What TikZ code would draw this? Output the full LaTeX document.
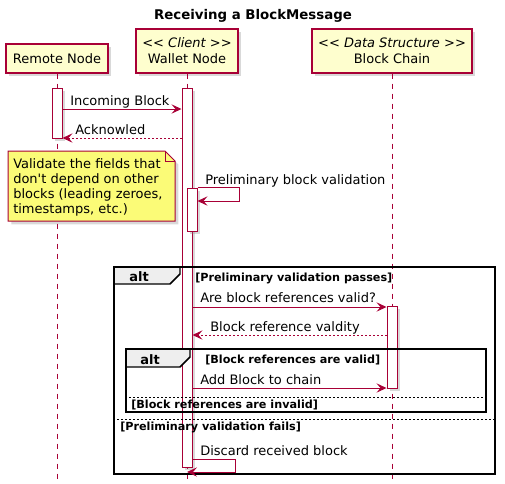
\documentclass[tikz,border=0pt]{standalone}
\usepackage{fontspec}
\setmainfont{DejaVu Sans}[Ligatures=TeXOff]
\usetikzlibrary{arrows.meta,fit,shadows}

\definecolor{umlred}{HTML}{A80036}
\definecolor{partfill}{HTML}{FEFECE}
\definecolor{notefill}{HTML}{FBFB77}
\definecolor{tabfill}{HTML}{EEEEEE}

\begin{document}
\begin{tikzpicture}[x=0.75pt, y=-0.75pt,
    boxshadow/.style={drop shadow={shadow xshift=2.5pt, shadow yshift=-2.5pt, opacity=0.3}},
    part/.style={draw=umlred, fill=partfill, line width=1.1pt, align=center, inner sep=0pt,
      font=\fontsize{9.75}{12}\selectfont, boxshadow},
    life/.style={draw=umlred, line width=0.75pt, dash pattern=on 3.75pt off 3.75pt},
    actbar/.style={draw=umlred, fill=white, line width=0.75pt, inner sep=0pt, boxshadow},
    msg/.style={draw=umlred, line width=0.75pt, -{Stealth[length=7.5pt, width=7pt, inset=3pt]}},
    reply/.style={msg, dash pattern=on 1.5pt off 1.5pt},
    msgtext/.style={anchor=base west, inner sep=0pt, font=\fontsize{9.75}{12}\selectfont},
    cond/.style={anchor=base west, inner sep=0pt, font=\bfseries\fontsize{8.4}{10}\selectfont},
    altframe/.style={draw=black, line width=1.5pt, inner sep=0pt},
    altsep/.style={draw=black, line width=0.6pt, dash pattern=on 1.5pt off 1.5pt},
    alttab/.style={draw=black, fill=tabfill, line width=1.1pt}]

  \useasboundingbox (0,0) rectangle (505,483);

  \node[anchor=base, font=\bfseries\fontsize{10}{12}\selectfont] (title) at (253,19) {Receiving a BlockMessage};

  % participants
  \node[part, minimum width=76.5pt, minimum height=21.75pt] (remote) at (57,58.5) {Remote Node};
  \node[part, minimum width=76.5pt, minimum height=33pt] (wallet) at (187,51) {\textit{<< Client >>}\\Wallet Node};
  \node[part, minimum width=120pt, minimum height=33pt] (chain) at (392,51) {\textit{<< Data Structure >>}\\Block Chain};

  \coordinate (remoteEnd) at (57,483);
  \coordinate (walletEnd) at (187,483);
  \coordinate (chainEnd) at (392,483);

  \draw[life] (remote.south) -- (remoteEnd);
  \draw[life] (wallet.south) -- (walletEnd);
  \draw[life] (chain.south) -- (chainEnd);

  % activations
  \node[actbar, fit={(52,88) (62,138)}] (actR) {};
  \node[actbar, fit={(182,88) (192,467)}] (actW) {};
  \node[actbar, fit={(187,188) (197,231)}] (actV) {};
  \node[actbar, fit={(387,306) (397,388)}] (actB) {};

  % note
  \draw[draw=umlred, fill=notefill, line width=0.75pt, boxshadow]
    (8,151) -- (165,151) -- (175,161) -- (175,221) -- (8,221) -- cycle;
  \draw[draw=umlred, line width=0.75pt] (165,151) -- (165,161) -- (175,161);
  \node[anchor=north west, align=left, inner sep=0pt, font=\fontsize{9.75}{11.25}\selectfont] (note) at (13,158)
    {Validate the fields that\\don't depend on other\\blocks (leading zeroes,\\timestamps, etc.)};

  % alt frames
  \draw[alttab] (114,267) -- (180,267) -- (180,274) -- (170,284) -- (114,284) -- cycle;
  \draw[alttab] (126,349) -- (190,349) -- (190,357) -- (180,367) -- (126,367) -- cycle;
  \node[altframe, fit={(114,267) (495,474)}] (altOuter) {};
  \node[altframe, fit={(126,349) (486,412)}] (altInner) {};
  \node[anchor=base, inner sep=0pt, font=\bfseries\fontsize{9.75}{12}\selectfont] (altA) at (139,281) {alt};
  \node[anchor=base, inner sep=0pt, font=\bfseries\fontsize{9.75}{12}\selectfont] (altB) at (150,364) {alt};
  \draw[altsep] (altOuter.west |- 0,419) -- (altOuter.east |- 0,419);
  \draw[altsep] (altInner.west |- 0,397) -- (altInner.east |- 0,397);
  \node[cond] (c1) at (195,281) {[Preliminary validation passes]};
  \node[cond] (c2) at (205,363) {[Block references are valid]};
  \node[cond] (c3) at (131,408) {[Block references are invalid]};
  \node[cond] (c4) at (120,430) {[Preliminary validation fails]};

  % messages
  \draw[msg] (actR.east |- 0,109) -- (actW.west |- 0,109);
  \node[msgtext] (m1) at (70,105) {Incoming Block};
  \draw[reply] (actW.west |- 0,138) -- (actR.east |- 0,138);
  \node[msgtext] (m2) at (75,134) {Acknowled};
  \draw[msg] (actV.north east) -- ++(42,0) |- (actV.east |- 0,201);
  \node[msgtext] (m3) at (205,184) {Preliminary block validation};
  \draw[msg] (actW.east |- 0,307) -- (actB.west |- 0,307);
  \node[msgtext] (m4) at (200,302) {Are block references valid?};
  \draw[reply] (actB.west |- 0,335) -- (actW.east |- 0,335);
  \node[msgtext] (m5) at (210,331) {Block reference valdity};
  \draw[msg] (actW.east |- 0,388) -- (actB.west |- 0,388);
  \node[msgtext] (m6) at (200,384) {Add Block to chain};
  \draw[msg] (actW.east |- 0,459) -- (235,459) |- (walletEnd |- 0,472);
  \node[msgtext] (m7) at (200,455) {Discard received block};
\end{tikzpicture}
\end{document}
